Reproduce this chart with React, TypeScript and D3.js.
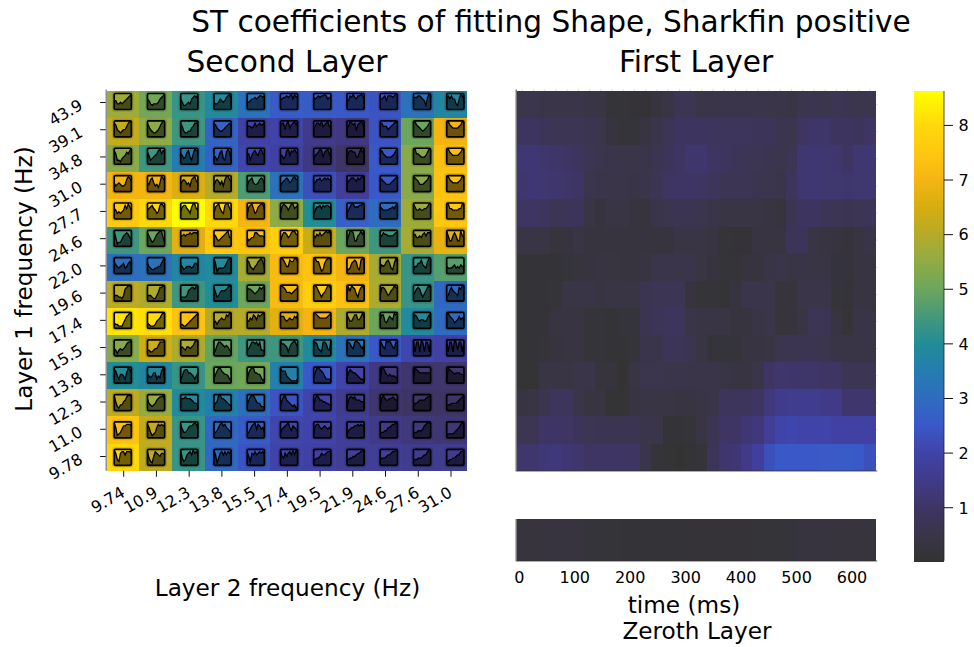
import React from "react";
import * as d3 from "d3";

const WIDTH = 974;
const HEIGHT = 647;
const FONT = "'DejaVu Sans', sans-serif";

const layer2Freq = ["9.74", "10.9", "12.3", "13.8", "15.5", "17.4", "19.5", "21.9", "24.6", "27.6", "31.0"];
const layer1Freq = ["43.9", "39.1", "34.8", "31.0", "27.7", "24.6", "22.0", "19.6", "17.4", "15.5", "13.8", "12.3", "11.0", "9.78"];

const secondLayer: number[][] = [
  [5.7, 5.1, 4.3, 3.9, 3.2, 2.6, 2.6, 2.5, 2.4, 3.2, 3.8],
  [6.2, 5.5, 4.4, 2.8, 1.9, 2.0, 1.5, 1.4, 2.4, 5.0, 7.0],
  [5.4, 4.4, 3.5, 2.8, 2.1, 1.9, 1.4, 1.0, 2.5, 5.4, 7.3],
  [7.0, 7.0, 6.6, 6.0, 4.6, 3.2, 2.3, 1.8, 2.5, 5.4, 7.4],
  [7.6, 8.0, 8.6, 8.0, 7.0, 5.5, 4.0, 2.7, 3.0, 5.7, 7.5],
  [4.4, 5.0, 6.7, 7.5, 7.4, 7.7, 6.3, 5.0, 4.4, 5.8, 6.8],
  [3.1, 3.2, 3.8, 3.9, 5.8, 7.2, 7.4, 7.0, 5.8, 4.3, 4.7],
  [6.1, 5.9, 4.4, 4.0, 5.0, 7.2, 7.7, 7.3, 5.9, 4.3, 2.9],
  [8.2, 8.1, 7.4, 6.0, 6.0, 6.7, 7.0, 5.9, 5.0, 3.9, 3.0],
  [5.4, 6.4, 5.9, 4.9, 4.4, 4.4, 3.9, 3.2, 2.5, 2.1, 1.9],
  [4.0, 3.8, 4.3, 5.0, 5.1, 3.6, 2.5, 2.0, 1.4, 1.1, 1.1],
  [6.1, 5.6, 3.9, 3.6, 3.1, 2.4, 2.0, 1.6, 1.1, 1.0, 1.0],
  [7.4, 6.2, 4.3, 2.9, 2.6, 2.1, 2.0, 1.7, 1.5, 1.3, 1.2],
  [7.9, 6.1, 4.3, 2.9, 2.4, 2.0, 1.9, 1.7, 1.7, 1.6, 1.6],
];

// each digit is the height of one sample of the little curve (0 = bottom, 9 = top)
const insetCurves: string[][] = [
  ["553343456789", "653233346789", "642234367879", "433465457896", "445667678878", "667787896978", "767878898677", "558797688986", "667858887899", "777887652798", "886866326986"],
  ["874323446899", "864322346899", "863223356889", "875433456787", "766568678779", "788489578979", "568879678965", "569878478985", "886664567898", "997654345689", "997655556799"],
  ["862213457689", "752345689687", "653478426988", "542478327972", "662578658966", "553489587976", "356798478964", "478877447978", "886544445689", "996654445799", "997655556799"],
  ["534543347986", "547853425986", "467645378965", "367646379976", "367854457874", "356787568977", "557786787876", "467887687898", "876544456789", "987644456799", "997655556799"],
  ["653434586975", "567865348986", "478865379965", "378964389964", "278963478995", "379875799678", "257786878876", "357997778899", "765555667689", "975565566799", "996655556699"],
  ["951224678754", "864235789952", "667677878887", "764345678955", "534558876665", "368875689977", "657686789896", "269983367979", "668776666788", "775565786888", "963368633965"],
  ["754345634675", "643223344689", "542344434664", "961333346899", "874324578973", "998644877997", "997741268998", "323678732898", "354578632697", "244668543799", "433345343544"],
  ["333221378998", "333211358899", "222236788799", "852356667899", "877654568789", "998755545678", "998642457997", "486987426897", "388753467987", "357874246898", "236865438798"],
  ["322111357899", "321112456899", "221123456789", "342456558799", "446587587898", "777545655768", "998766666789", "864468855796", "588435765989", "687545544685", "897653457565"],
  ["431343457889", "332234468889", "454355456899", "136887656532", "346887868332", "977652578975", "887432887439", "887548987548", "975498975487", "928829828829", "928829838829"],
  ["874255426986", "543466243792", "247886654246", "257997655421", "268996655312", "977743211112", "369987642221", "268766543221", "199754544433", "298766666665", "198765666555"],
  ["952133568998", "743234678896", "777877765443", "245997765433", "368997544222", "268965432312", "279866554433", "168878666555", "279766778766", "244566667889", "333444456789"],
  ["961235778887", "863123687878", "853346778985", "234689786543", "235789587563", "256789647654", "278865676565", "245667787878", "233446678899", "233444578999", "222223456899"],
  ["973278868887", "842158765776", "942367869786", "961478686879", "852768678786", "954757869697", "334457667889", "334455677899", "344456678899", "333444566899", "223344566889"],
];

const firstLayer: number[][] = [
  [.6, .6, .5, .5, .5, .5, .45, .4, .15, .15, .12, .12, .3, .45, .7, .7, .5, .5, .55, .55, .55, .55, .5, .5, .45, .6, .65, .6, .7, .65, .6, .6],
  [.9, .9, .8, .7, .7, .7, .65, .6, .3, .2, .2, .35, .55, .7, .9, .9, .9, .85, .85, .85, .85, .8, .75, .65, .6, .95, 1.05, 1.05, .9, .9, .8, 1.0],
  [1.2, 1.2, 1.1, 1.05, 1.0, .9, .7, .6, .55, .5, .5, .55, .65, .8, .95, 1.1, 1.1, .95, .9, .8, .7, .7, .65, .6, .7, 1.15, 1.2, 1.15, 1.1, 1.0, 1.15, 1.2],
  [1.1, 1.2, 1.15, 1.1, 1.05, 1.0, .6, .55, .5, .5, .45, .55, .7, .95, 1.0, 1.0, .95, .85, .7, .7, .7, .65, .6, .55, .85, 1.15, 1.2, 1.15, 1.15, 1.1, 1.15, 1.15],
  [.95, .95, .85, .7, .8, .8, .4, .3, .4, .4, .3, .3, .55, .6, .65, .65, .6, .5, .4, .4, .4, .4, .35, .3, .7, .9, .9, .75, .7, .65, .7, .75],
  [.45, .45, .4, .25, .3, .4, .3, .3, .3, .3, .3, .3, .3, .3, .4, .4, .4, .35, .15, .12, .12, .35, .35, .35, .75, .75, .4, .35, .3, .2, .35, .45],
  [.1, .1, .1, .1, .2, .25, .3, .35, .35, .3, .3, .35, .55, .55, .5, .55, .4, .3, .15, .15, .3, .3, .45, .5, .4, .45, .4, .4, .2, .2, .35, .35],
  [.1, .1, .1, .15, .45, .45, .45, .35, .4, .4, .4, .65, .7, .7, .7, .3, .15, .15, .05, .3, .55, .55, .5, .25, .25, .5, .5, .5, .15, .1, .35, .35],
  [.1, .1, .1, .35, .35, .35, .2, .2, .05, .2, .2, .65, .75, .85, .85, .5, .4, .4, .4, .3, .3, .45, .5, .25, .25, .4, .7, .7, .35, .15, .45, .45],
  [.05, .1, .15, .3, .35, .35, .2, .2, .05, .05, .2, .55, .55, .75, .75, .65, .4, .2, .2, .2, .35, .35, .4, .6, .65, .65, .65, .6, .45, .4, .45, .45],
  [.05, .05, .4, .4, .4, .5, .5, .25, .25, .05, .4, .6, .6, .55, .55, .5, .5, .5, .4, .35, .35, .5, 1.0, 1.1, 1.05, 1.05, 1.05, 1.0, 1.0, .7, .7, .7],
  [.35, .4, .6, .85, .85, .5, .35, .35, .05, .05, .35, .4, .4, .4, .35, .35, .4, .5, .85, .85, .85, .95, 1.3, 1.55, 1.6, 1.6, 1.6, 1.5, 1.5, 1.1, 1.1, 1.1],
  [.7, .7, 1.0, 1.0, .95, .8, .7, .65, .65, .65, .65, .55, .5, .1, .1, .15, .4, .7, 1.0, 1.0, 1.2, 1.3, 1.7, 2.0, 2.1, 2.0, 2.0, 2.0, 1.9, 1.9, 1.9, 1.9],
  [1.1, 1.1, 1.25, 1.3, 1.2, 1.1, 1.0, 1.0, 1.0, 1.0, .95, .55, .2, .05, .0, .1, .2, .8, 1.1, 1.2, 1.5, 1.8, 2.3, 2.5, 2.5, 2.5, 2.5, 2.55, 2.55, 2.6, 2.5, 2.3],
];

const zerothLayer = [.25, .25, .3, .3, .3, .25, .2, .2, .15, .1, .1, .1, .1, .1, .1, .12, .12, .12, .12, .12, .12, .15, .15, .15, .2, .3, .3, .3, .3, .25, .25, .25];

const timeTicks = [0, 100, 200, 300, 400, 500, 600];
const colorTicks = [1, 2, 3, 4, 5, 6, 7, 8];

const colorStops: [number, string][] = [
  [0, "#333333"], [0.5, "#3a3548"], [1, "#3e3565"], [1.5, "#403a88"], [2, "#4043a8"], [2.5, "#3a58c8"],
  [3, "#2f6cc0"], [3.5, "#257cb0"], [4, "#218d97"], [4.5, "#46987a"], [5, "#6ca65c"], [5.5, "#8fab45"],
  [6, "#b5ab28"], [6.5, "#d6ad10"], [7, "#f4b512"], [7.5, "#ffc710"], [8, "#ffd80b"], [8.63, "#ffff00"],
];

const color = d3.scaleLinear<string>().domain(colorStops.map((s) => s[0])).range(colorStops.map((s) => s[1])).clamp(true);

// layout
const left = { x0: 106.7, x1: 467, y0: 91, y1: 470.7 };
const right = { x0: 516.7, x1: 875.7, y0: 91, y1: 470.7 };
const zero = { y0: 519, y1: 560.7 };
const bar = { x0: 914, x1: 944, y0: 91, y1: 560.7 };

const cellX = d3.scaleBand<number>().domain(d3.range(layer2Freq.length)).range([left.x0, left.x1]);
const cellY = d3.scaleBand<number>().domain(d3.range(layer1Freq.length)).range([left.y0, left.y1]);
const tickX = d3.scaleLinear().domain([0, 10]).range([123.7, 451]);
const tickY = d3.scaleLinear().domain([0, 13]).range([102.5, 456.5]);
const insetX = d3.scaleLinear().domain([0, 10]).range([122.8, 455.3]);
const insetY = d3.scaleLinear().domain([0, 13]).range([101.5, 457.3]);
const INSET_W = 17.2;
const INSET_H = 16;
const curveX = d3.scaleLinear().domain([0, 11]).range([-INSET_W / 2, INSET_W / 2]);
const curveY = d3.scaleLinear().domain([-0.5, 9.5]).range([INSET_H / 2, -INSET_H / 2]);

const timeBandX = d3.scaleBand<number>().domain(d3.range(32)).range([right.x0, right.x1]);
const rightRowY = d3.scaleBand<number>().domain(d3.range(14)).range([right.y0, right.y1]);
const timeX = d3.scaleLinear().domain([-4.7, 642.7]).range([right.x0, right.x1]);
const barY = d3.scaleLinear().domain([0.03, 8.63]).range([bar.y1, bar.y0]);

const lineGen = d3.line<number>().x((_, i) => curveX(i)).y((d) => curveY(d));
const areaGen = d3.area<number>().x((_, i) => curveX(i)).y1((d) => curveY(d)).y0(INSET_H / 2);

const FAINT = "rgba(0,0,0,0.12)";
const TICK = "#111";
const TITLE_SIZE = 29.6;
const LABEL_SIZE = 23.2;
const TICK_SIZE = 16;

export default function App() {
  return (
    <svg
      width={WIDTH}
      height={HEIGHT}
      viewBox={`0 0 ${WIDTH} ${HEIGHT}`}
      style={{ position: "absolute", left: 0, top: 0, background: "#fff", fontFamily: FONT }}
    >
      <text x={551} y={32} textAnchor="middle" fontSize={TITLE_SIZE} fill="#000">ST coefficients of fitting Shape, Sharkfin positive</text>
      <text x={287} y={72} textAnchor="middle" fontSize={TITLE_SIZE} fill="#000">Second Layer</text>
      <text x={696} y={72} textAnchor="middle" fontSize={TITLE_SIZE} fill="#000">First Layer</text>

      {/* second layer heatmap */}
      <g shapeRendering="crispEdges">
        {secondLayer.map((row, r) =>
          row.map((v, c) => (
            <rect key={`${r}-${c}`} x={cellX(c)} y={cellY(r)} width={cellX.bandwidth() + 0.3} height={cellY.bandwidth() + 0.3} fill={color(v)} />
          ))
        )}
      </g>
      {insetCurves.map((row, r) =>
        row.map((s, c) => {
          const vals = s.split("").map(Number);
          return (
            <g key={`i${r}-${c}`} transform={`translate(${insetX(c)},${insetY(r)})`}>
              <rect x={-INSET_W / 2 - 1} y={-INSET_H / 2 - 1} width={INSET_W + 2} height={INSET_H + 2} rx={2} fill="none" stroke="rgba(0,0,0,0.12)" strokeWidth={2.6} />
              <path d={areaGen(vals) ?? ""} fill="rgba(0,0,0,0.55)" />
              <path d={lineGen(vals) ?? ""} fill="none" stroke="#000" strokeWidth={1.3} />
              <rect x={-INSET_W / 2} y={-INSET_H / 2} width={INSET_W} height={INSET_H} rx={1.2} fill="none" stroke="#000" strokeWidth={1.7} />
            </g>
          );
        })
      )}
      <line x1={left.x0 - 0.5} x2={left.x0 - 0.5} y1={left.y0 - 1.5} y2={left.y1} stroke="#777" strokeWidth={1.2} />
      {layer1Freq.map((f, r) => (
        <g key={f}>
          <line x1={left.x0 - 6.5} x2={left.x0 - 1} y1={tickY(r)} y2={tickY(r)} stroke={TICK} strokeWidth={1} />
          <line x1={left.x1 - 4} x2={left.x1} y1={tickY(r)} y2={tickY(r)} stroke={FAINT} strokeWidth={1} />
          <text transform={`translate(83.8,${tickY(r) + 6}) rotate(-30)`} textAnchor="end" fontSize={TICK_SIZE} fill="#000">{f}</text>
        </g>
      ))}
      {layer2Freq.map((f, c) => (
        <g key={f}>
          <line x1={tickX(c)} x2={tickX(c)} y1={left.y1} y2={left.y1 + 6} stroke={TICK} strokeWidth={1} />
          <line x1={tickX(c)} x2={tickX(c)} y1={left.y0} y2={left.y0 + 3} stroke={FAINT} strokeWidth={1} />
          <text transform={`translate(${tickX(c) + 2.3},${left.y1 + 25}) rotate(-30)`} textAnchor="end" fontSize={TICK_SIZE} fill="#000">{f}</text>
        </g>
      ))}
      <text x={287.5} y={596} textAnchor="middle" fontSize={LABEL_SIZE} fill="#000">Layer 2 frequency (Hz)</text>
      <text transform="translate(32,279) rotate(-90)" textAnchor="middle" fontSize={LABEL_SIZE} fill="#000">Layer 1 frequency (Hz)</text>

      {/* first layer heatmap */}
      <g shapeRendering="crispEdges">
        {firstLayer.map((row, r) =>
          row.map((v, c) => (
            <rect key={`f${r}-${c}`} x={timeBandX(c)} y={rightRowY(r)} width={timeBandX.bandwidth() + 0.3} height={rightRowY.bandwidth() + 0.3} fill={color(v)} />
          ))
        )}
        {zerothLayer.map((v, c) => (
          <rect key={`z${c}`} x={timeBandX(c)} y={zero.y0} width={timeBandX.bandwidth() + 0.3} height={zero.y1 - zero.y0} fill={color(v)} />
        ))}
      </g>
      <line x1={right.x0 - 0.5} x2={right.x0 - 0.5} y1={right.y0 - 1.5} y2={right.y1} stroke="#555" strokeWidth={1.2} />
      <line x1={right.x0 - 1} x2={right.x1 + 1.5} y1={right.y1 + 0.3} y2={right.y1 + 0.3} stroke="#333" strokeWidth={0.8} />
      <line x1={right.x0 - 0.5} x2={right.x0 - 0.5} y1={zero.y0} y2={zero.y1} stroke="#555" strokeWidth={1.2} />
      <line x1={right.x0 - 1} x2={right.x1 + 1.5} y1={zero.y1 + 0.3} y2={zero.y1 + 0.3} stroke="#333" strokeWidth={0.8} />
      {d3.range(32).map((c) => (
        <line key={c} x1={timeBandX(c)! + timeBandX.bandwidth() / 2} x2={timeBandX(c)! + timeBandX.bandwidth() / 2} y1={right.y0 - 2} y2={right.y0} stroke={FAINT} />
      ))}
      {d3.range(14).map((r) => (
        <line key={r} x1={right.x1} x2={right.x1 + 2} y1={rightRowY(r)! + rightRowY.bandwidth() / 2} y2={rightRowY(r)! + rightRowY.bandwidth() / 2} stroke={FAINT} />
      ))}
      {timeTicks.map((t) => (
        <text key={t} x={timeX(t)} y={583} textAnchor="middle" fontSize={TICK_SIZE} fill="#000">{t}</text>
      ))}
      <text x={684} y={613} textAnchor="middle" fontSize={LABEL_SIZE} fill="#000">time (ms)</text>
      <text x={697} y={639} textAnchor="middle" fontSize={LABEL_SIZE} fill="#000">Zeroth Layer</text>

      {/* colour bar */}
      <g shapeRendering="crispEdges">
        {d3.range(bar.y0, bar.y1, 1).map((y) => (
          <rect key={y} x={bar.x0} y={y} width={bar.x1 - bar.x0} height={1.5} fill={color(barY.invert(y + 0.5))} />
        ))}
      </g>
      <line x1={bar.x1} x2={bar.x1} y1={bar.y0} y2={bar.y1} stroke="#222" strokeWidth={0.8} />
      {colorTicks.map((t) => (
        <g key={t}>
          <line x1={bar.x1} x2={bar.x1 + 9} y1={barY(t)} y2={barY(t)} stroke={TICK} strokeWidth={1} />
          <text x={958.5} y={barY(t) + 5.8} fontSize={TICK_SIZE} fill="#000">{t}</text>
        </g>
      ))}
    </svg>
  );
}
